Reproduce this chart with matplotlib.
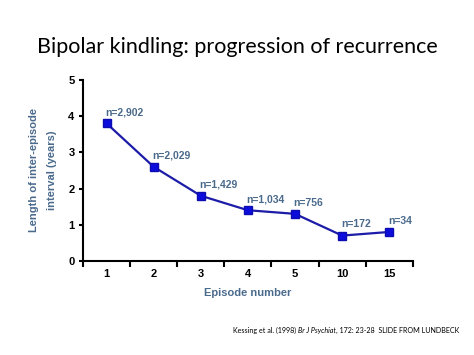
import numpy as np
import matplotlib.pyplot as plt
from matplotlib import font_manager

# datos
episodios = ['1', '2', '3', '4', '5', '10', '15']
intervalo = [3.8, 2.6, 1.8, 1.4, 1.3, 0.7, 0.8]
etiquetas_n = ['n=2,902', 'n=2,029', 'n=1,429', 'n=1,034', 'n=756', 'n=172', 'n=34']
yticks = [0, 1, 2, 3, 4, 5]

nombres = {f.name for f in font_manager.fontManager.ttflist}
fuente = 'Liberation Sans Narrow' if 'Liberation Sans Narrow' in nombres else 'Liberation Sans'

col_texto = '#4a6a8c'
col_linea = '#1c1ca8'

fig = plt.figure(figsize=(4.74, 3.55), dpi=100)
ax = fig.add_axes([0.175, 0.265, 0.696, 0.51])

x = np.arange(len(episodios))
ax.plot(x, intervalo, color=col_linea, lw=1.6, marker='s', ms=5.5,
        mfc='#0c0cdc', mec='#0c0cb0', zorder=3)

for xi, yi, t in zip(x, intervalo, etiquetas_n):
    ax.annotate(t, (xi, yi), xytext=(-1, 8), textcoords='offset points',
                ha='left', va='center', fontsize=7.5, fontweight='bold',
                color=col_texto, family=fuente)

ax.set_xlim(-0.5, len(episodios) - 0.5)
ax.set_ylim(0, 5)
ax.set_yticks(yticks)
ax.set_xticks(x)
ax.set_xticklabels(episodios)
ax.set_xticks(np.arange(len(episodios) + 1) - 0.5, minor=True)
ax.tick_params(axis='x', which='major', length=0, pad=6)
ax.tick_params(axis='x', which='minor', length=4, width=1.5, direction='out')
ax.tick_params(axis='y', length=3, width=1.5, direction='out', pad=3)
for lab in ax.get_xticklabels() + ax.get_yticklabels():
    lab.set_fontweight('bold')
    lab.set_fontsize(8)
    lab.set_family(fuente)

for lado in ['top', 'right']:
    ax.spines[lado].set_visible(False)
for lado in ['left', 'bottom']:
    ax.spines[lado].set_linewidth(1.5)

ax.set_xlabel('Episode number', fontsize=8, fontweight='bold', color=col_texto,
              family=fuente, labelpad=6)
ax.set_ylabel('Length of inter-episode\ninterval (years)', fontsize=8,
              fontweight='bold', color=col_texto, family=fuente, labelpad=8,
              linespacing=2.0, multialignment='center')

fig.text(0.5, 0.868, 'Bipolar kindling: progression of recurrence',
         ha='center', va='center', fontsize=15.5, family='Lato')

# pie de pagina con parte en cursiva
t1 = fig.text(0.492, 0.062, 'Kessing et al. (1998) ', fontsize=5.1,
              family='Lato', va='baseline')
t2 = ax.annotate('Br J Psychiat', xy=(1, 0), xycoords=t1, fontsize=5.1,
                 family='Lato', style='italic', va='bottom')
t3 = ax.annotate(', 172: 23-28  SLIDE FROM LUNDBECK', xy=(1, 0), xycoords=t2,
                 fontsize=5.1, family='Lato', va='bottom')

fig.savefig('out.png', dpi=100)
